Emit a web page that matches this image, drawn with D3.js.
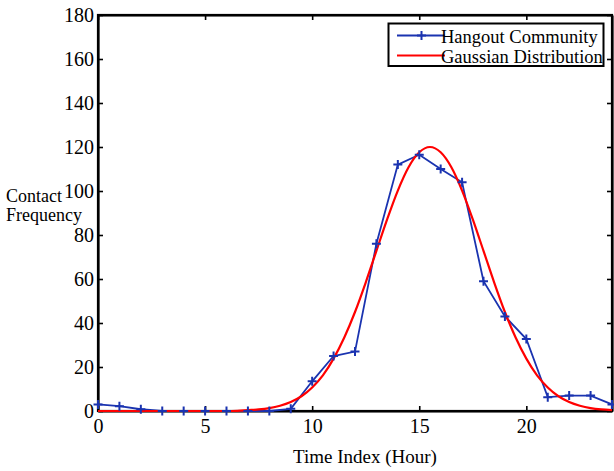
<!DOCTYPE html>
<html>
<head>
<meta charset="utf-8">
<script src="https://cdn.jsdelivr.net/npm/d3@7"></script>
<style>
  html, body { margin: 0; padding: 0; background: #fff; }
  svg { display: block; }
  text { font-family: "Liberation Serif", "Times New Roman", serif; fill: #000; }
</style>
</head>
<body>
<svg id="chart" width="614" height="471"></svg>
<script>
// ---- data ----
const hours = [0,1,2,3,4,5,6,7,8,9,10,11,12,13,14,15,16,17,18,19,20,21,22,23,24];
const hangoutValues = [3,2.2,0.8,0,0,0,0,0,0,1,13.5,25,27,76,112,116.5,110,104,59,43,32.7,6.3,7,7,3];
const gaussHours = [0,1,2,3,4,5,6,6.5,7,7.5,8,8.5,9,9.5,10,10.5,11,11.5,12,12.5,13,13.5,14,14.5,15,15.5,16,16.5,17,17.5,18,18.5,19,19.5,20,20.5,21,21.5,22,22.5,23,23.5,24];
const gaussValues = [0,0,0,0,0,0,0,0.1,0.4,0.7,1.3,2.4,4.1,6.7,10.7,16.2,23.8,33.4,45.0,58.4,72.8,87.1,100.2,110.8,117.6,120,117.6,110.8,100.2,87.1,72.8,58.4,45.0,33.4,23.8,16.2,10.7,6.7,4.1,2.4,1.3,0.7,0.4];
const xTicks = [0,5,10,15,20];
const yTicks = [0,20,40,60,80,100,120,140,160,180];
const seriesNames = ["Hangout Community", "Gaussian Distribution"];
const yLabelLines = ["Contact", "Frequency"];
const xLabel = "Time Index (Hour)";

// ---- layout ----
const L = 98, R = 612, T = 15, B = 411;
const blue = "#1a33b0", red = "#ff0000";
const svg = d3.select("#chart");
const x = d3.scaleLinear().domain([0, 24]).range([L, R]);
const y = d3.scaleLinear().domain([0, 180]).range([B, T]);

// axes (MATLAB style, inward ticks, box)
const fs = 20;
const gB = svg.append("g").attr("transform", `translate(0,${B})`)
  .call(d3.axisBottom(x).tickValues(xTicks).tickSizeInner(-5).tickSizeOuter(0).tickPadding(8).tickFormat(d3.format("d")));
const gL = svg.append("g").attr("transform", `translate(${L},0)`)
  .call(d3.axisLeft(y).tickValues(yTicks).tickSizeInner(-5).tickSizeOuter(0).tickPadding(4).tickFormat(d3.format("d")));
const gT = svg.append("g").attr("transform", `translate(0,${T})`)
  .call(d3.axisTop(x).tickValues(xTicks).tickSizeInner(-5).tickSizeOuter(0).tickFormat(""));
const gR = svg.append("g").attr("transform", `translate(${R},0)`)
  .call(d3.axisRight(y).tickValues(yTicks).tickSizeInner(-5).tickSizeOuter(0).tickFormat(""));
[gB, gL, gT, gR].forEach(g => {
  g.selectAll(".domain").attr("stroke", "#000").attr("stroke-width", 2.2);
  g.selectAll(".tick line").attr("stroke", "#000").attr("stroke-width", 1.6);
  g.selectAll("text").style("font-family", '"Liberation Serif", serif').style("font-size", fs + "px").attr("fill", "#000");
});
// make box corners solid
svg.append("rect").attr("x", L).attr("y", T).attr("width", R - L).attr("height", B - T)
  .attr("fill", "none").attr("stroke", "#000").attr("stroke-width", 2.2);

// series
const hangData = hours.map((h, i) => [h, hangoutValues[i]]);
const gaussData = gaussHours.map((h, i) => [h, gaussValues[i]]);

svg.append("path").datum(hangData)
  .attr("d", d3.line().x(d => x(d[0])).y(d => y(d[1])))
  .attr("fill", "none").attr("stroke", blue).attr("stroke-width", 1.8);

svg.append("path").datum(gaussData)
  .attr("d", d3.line().curve(d3.curveMonotoneX).x(d => x(d[0])).y(d => y(d[1])))
  .attr("fill", "none").attr("stroke", red).attr("stroke-width", 2.2);

const ms = 4.5;
const plus = (cx, cy) => `M${cx - ms},${cy}H${cx + ms}M${cx},${cy - ms}V${cy + ms}`;
svg.append("g").selectAll("path").data(hangData).join("path")
  .attr("d", d => plus(x(d[0]), y(d[1])))
  .attr("stroke", blue).attr("stroke-width", 2).attr("fill", "none");

// legend
const lg = svg.append("g");
lg.append("rect").attr("x", 388.5).attr("y", 23.5).attr("width", 215).attr("height", 42.5)
  .attr("fill", "#fff").attr("stroke", "#000").attr("stroke-width", 2);
const rowsY = [35.5, 55.5];
const colors = [blue, red];
seriesNames.forEach((name, i) => {
  lg.append("line").attr("x1", 397).attr("x2", 445).attr("y1", rowsY[i]).attr("y2", rowsY[i])
    .attr("stroke", colors[i]).attr("stroke-width", i === 0 ? 1.8 : 2.2);
  if (i === 0) lg.append("path").attr("d", plus(421.5, rowsY[i])).attr("stroke", blue).attr("stroke-width", 2);
  lg.append("text").attr("x", 441).attr("y", rowsY[i] + 7.5)
    .style("font-size", "18.5px").text(name);
});

// axis titles
yLabelLines.forEach((t, i) => {
  svg.append("text").attr("x", 6).attr("y", 202 + i * 19).style("font-size", "18px").text(t);
});
svg.append("text").attr("x", 365).attr("y", 463).attr("text-anchor", "middle")
  .style("font-size", "19px").text(xLabel);
</script>
</body>
</html>
